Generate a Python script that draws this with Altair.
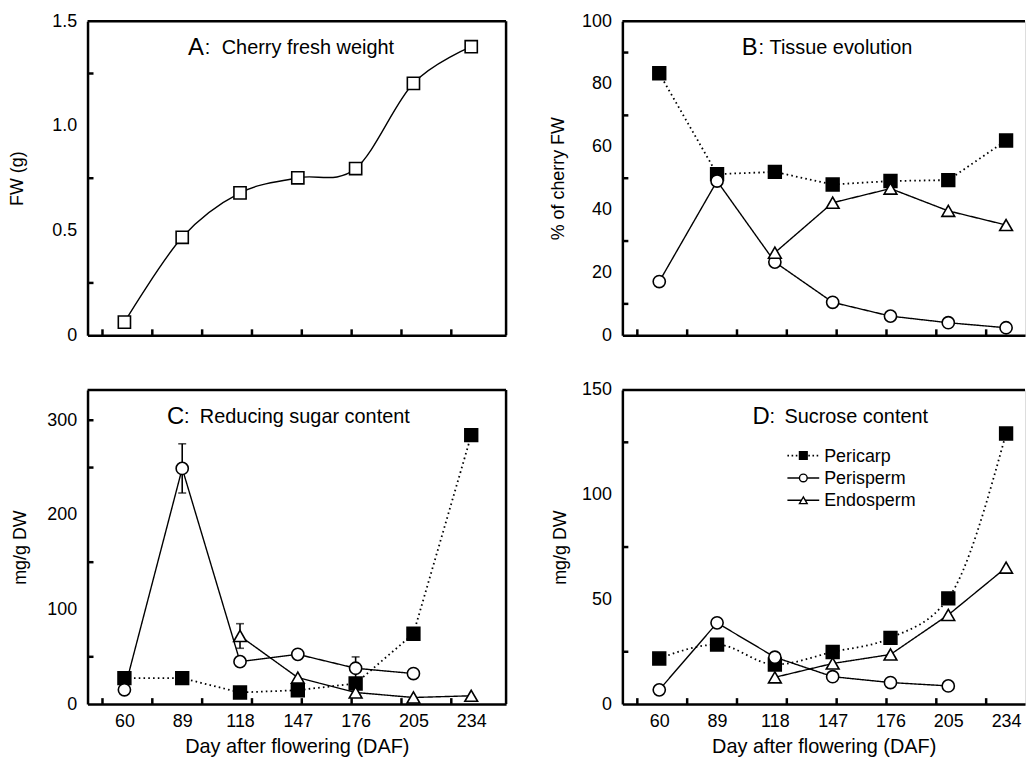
import altair as alt
import pandas as pd

# ---------------- data ----------------
days = [60, 89, 118, 147, 176, 205, 234]
x_tick_values = [49, 74, 99, 124, 149, 174, 199, 224]
series_names = ["Pericarp", "Perisperm", "Endosperm"]

fw = [0.063, 0.468, 0.680, 0.752, 0.796, 1.203, 1.378]

tissue_pericarp = [83.4, 51.3, 52.0, 48.0, 49.1, 49.4, 62.0]
tissue_perisperm = [17.1, 49.1, 23.3, 10.5, 6.1, 4.0, 2.4]
tissue_endosperm = [None, None, 26.3, 42.2, 46.7, 39.6, 35.1]

rs_pericarp = [27.4, 27.4, 12.3, 14.7, 21.8, 74.4, 284.2]
rs_perisperm = [15.1, 249.1, 44.9, 52.6, 37.9, 32.3, None]
rs_endosperm = [None, None, 72.0, 28.0, 12.3, 7.0, 8.8]
rs_err_perisperm = [None, 26.0, None, None, 12.0, None, None]
rs_err_endosperm = [None, None, 13.0, None, None, None, None]

su_pericarp = [21.8, 28.4, 18.9, 24.9, 31.6, 50.5, 129.2]
su_perisperm = [6.8, 38.8, 22.4, 13.1, 10.3, 8.7, None]
su_endosperm = [None, None, 12.8, 19.4, 23.7, 42.6, 65.2]

FONT = "Liberation Sans"
H = 316
W_LEFT = 421
W_RIGHT = 405
PX_PER_DAY = 2.005
X0 = 41.5


def long_df(triples):
    rows = []
    for name, vals in triples:
        for d, v in zip(days, vals):
            if v is not None:
                rows.append({"day": d, "value": v, "series": name})
    return pd.DataFrame(rows)


def err_df(triples):
    rows = []
    for vals, errs in triples:
        for d, v, e in zip(days, vals, errs):
            if v is not None and e is not None:
                rows.append({"day": d, "lo": v - e, "hi": v + e})
    return pd.DataFrame(rows)


def panel(df, width, ydom, ymajor, yminor, ytitle, title_x, letter, rest,
          letter_dx, rest_dx, show_x, right_border, interp=None,
          errors=None, legend=False, single=False):
    xmax = X0 + width / PX_PER_DAY
    xscale = alt.Scale(domain=[X0, xmax], nice=False, zero=False)
    xaxis = alt.Axis(values=days, labels=show_x, tickSize=0, labelFontSize=18,
                     labelPadding=9, labelFont=FONT, labelColor="black",
                     domainColor="black", domainWidth=2.5, grid=False,
                     title="Day after flowering (DAF)" if show_x else "",
                     titleFontSize=20, titleFontWeight="normal", titleFont=FONT,
                     titlePadding=6, titleColor="black")
    yscale = alt.Scale(domain=ydom, nice=False, zero=True)
    yaxis = alt.Axis(values=ymajor, tickSize=0, labelFontSize=18, labelPadding=11,
                     labelFont=FONT, labelColor="black", domainColor="black",
                     domainWidth=2.5, grid=False, title=ytitle, titleFontSize=18,
                     titleFont=FONT, titleFontWeight="normal", titleColor="black",
                     titleAngle=270, titleBaseline="alphabetic", titleX=title_x,
                     titleY=H / 2, titleAlign="center",
                     labelExpr="datum.value == 0 ? '0' : datum.label")

    def X(field="day"):
        return alt.X(f"{field}:Q", scale=xscale, axis=xaxis, title=xaxis.title)

    def Y(field="value"):
        return alt.Y(f"{field}:Q", scale=yscale, axis=yaxis, title=ytitle)

    one = pd.DataFrame({"k": [0]})
    layers = []

    # frame lines (top + optional right)
    layers.append(alt.Chart(one).mark_rule(color="black", strokeWidth=2.5).encode(
        x=alt.value(0), x2=alt.value(width), y=alt.value(0)))
    if right_border:
        layers.append(alt.Chart(one).mark_rule(color="black", strokeWidth=2.5).encode(
            x=alt.value(width), y=alt.value(0), y2=alt.value(H)))

    # inward ticks
    layers.append(alt.Chart(pd.DataFrame({"day": x_tick_values})).mark_rule(
        color="black", strokeWidth=2.5).encode(x=X(), y=alt.value(H), y2=alt.value(H - 6)))
    layers.append(alt.Chart(pd.DataFrame({"value": yminor})).mark_rule(
        color="black", strokeWidth=2.5).encode(y=Y(), x=alt.value(0), x2=alt.value(6)))

    shape_scale = alt.Scale(domain=series_names, range=["square", "circle", "triangle-up"])
    fill_scale = alt.Scale(domain=series_names, range=["black", "white", "white"])

    if single:
        layers.append(alt.Chart(df).mark_line(color="black", strokeWidth=1.4,
                                              interpolate="cardinal").encode(x=X(), y=Y()))
    else:
        for name in series_names:
            sub = df[df.series == name]
            ip = (interp or {}).get(name, "linear")
            dash = [1.6, 3.2] if name == "Pericarp" else [1, 0]
            sw = 1.8 if name == "Pericarp" else 1.4
            layers.append(alt.Chart(sub).mark_line(color="black", strokeWidth=sw,
                                                   strokeDash=dash, interpolate=ip).encode(
                x=X(), y=Y()))

    if errors is not None and len(errors):
        layers.append(alt.Chart(errors).mark_rule(color="black", strokeWidth=1.6).encode(
            x=X(), y=Y("lo"), y2="hi:Q"))
        for f in ["lo", "hi"]:
            layers.append(alt.Chart(errors).mark_tick(color="black", orient="horizontal",
                                                      size=8, thickness=1.6).encode(
                x=X(), y=Y(f)))

    if single:
        layers.append(alt.Chart(df).mark_point(shape="square", size=150, filled=True,
                                               fill="white", stroke="black",
                                               strokeWidth=1.6, opacity=1).encode(x=X(), y=Y()))
    else:
        for name in series_names:
            sub = df[df.series == name]
            layers.append(alt.Chart(sub).mark_point(size=165 if name != "Perisperm" else 150,
                                                    filled=True, stroke="black",
                                                    strokeWidth=1.6, opacity=1).encode(
                x=X(), y=Y(),
                shape=alt.Shape("series:N", scale=shape_scale, legend=None),
                fill=alt.Fill("series:N", scale=fill_scale, legend=None)))

    # panel title
    layers.append(alt.Chart(one).mark_text(align="left", baseline="alphabetic",
                                           fontSize=24, font=FONT, color="black").encode(
        x=alt.value(letter_dx), y=alt.value(34), text=alt.value(letter)))
    layers.append(alt.Chart(one).mark_text(align="left", baseline="alphabetic",
                                           fontSize=20, font=FONT, color="black").encode(
        x=alt.value(letter_dx + 17), y=alt.value(33), text=alt.value(":")))
    layers.append(alt.Chart(one).mark_text(align="left", baseline="alphabetic",
                                           fontSize=20, font=FONT, color="black").encode(
        x=alt.value(rest_dx), y=alt.value(33), text=alt.value(rest)))

    if legend:
        lshape = ["square", "circle", "triangle-up"]
        lfill = ["black", "white", "white"]
        for i, name in enumerate(series_names):
            yy = 66 + i * 22.5
            dash = [1.6, 2.6] if name == "Pericarp" else [1, 0]
            layers.append(alt.Chart(one).mark_rule(color="black", strokeWidth=1.8 if i == 0 else 1.6,
                                                   strokeDash=dash).encode(
                x=alt.value(166), x2=alt.value(198), y=alt.value(yy)))
            layers.append(alt.Chart(one).mark_point(shape=lshape[i], size=60, filled=True,
                                                    fill=lfill[i], stroke="black",
                                                    strokeWidth=1.4, opacity=1).encode(
                x=alt.value(182), y=alt.value(yy)))
            layers.append(alt.Chart(one).mark_text(align="left", baseline="middle",
                                                   fontSize=18, font=FONT, color="black").encode(
                x=alt.value(203), y=alt.value(yy + 1), text=alt.value(name)))

    return alt.layer(*layers).properties(width=width, height=H)


dfA = long_df([("FW", fw)])
dfB = long_df(list(zip(series_names, [tissue_pericarp, tissue_perisperm, tissue_endosperm])))
dfC = long_df(list(zip(series_names, [rs_pericarp, rs_perisperm, rs_endosperm])))
dfD = long_df(list(zip(series_names, [su_pericarp, su_perisperm, su_endosperm])))
errC = err_df([(rs_perisperm, rs_err_perisperm), (rs_endosperm, rs_err_endosperm)])

pA = panel(dfA, W_LEFT, [0, 1.5], [0, 0.5, 1.0, 1.5], [0.25, 0.75, 1.25], "FW (g)", -65,
           "A", "Cherry fresh weight", 101, 135, False, True, single=True)
pB = panel(dfB, W_RIGHT, [0, 100], [0, 20, 40, 60, 80, 100], [10, 30, 50, 70, 90],
           "% of cherry FW", -59, "B", "Tissue evolution", 120, 148, False, False)
pC = panel(dfC, W_LEFT, [0, 332], [0, 100, 200, 300], [50, 150, 250, 300],
           "mg/g DW", -62, "C", "Reducing sugar content", 80, 113, True, True, errors=errC)
pD = panel(dfD, W_RIGHT, [0, 150], [0, 50, 100, 150], [25, 75, 125],
           "mg/g DW", -57, "D", "Sucrose content", 131, 163, True, False,
           interp={"Pericarp": "monotone"}, legend=True)

chart = alt.concat(pA, pB, pC, pD, columns=2, spacing={"row": 35, "column": 41}).properties(
    padding={"top": 1, "left": 0, "right": 0, "bottom": 0}
).configure_view(stroke=None).configure(font=FONT)

chart.save("out.html", embed_options={"renderer": "svg", "actions": False})
